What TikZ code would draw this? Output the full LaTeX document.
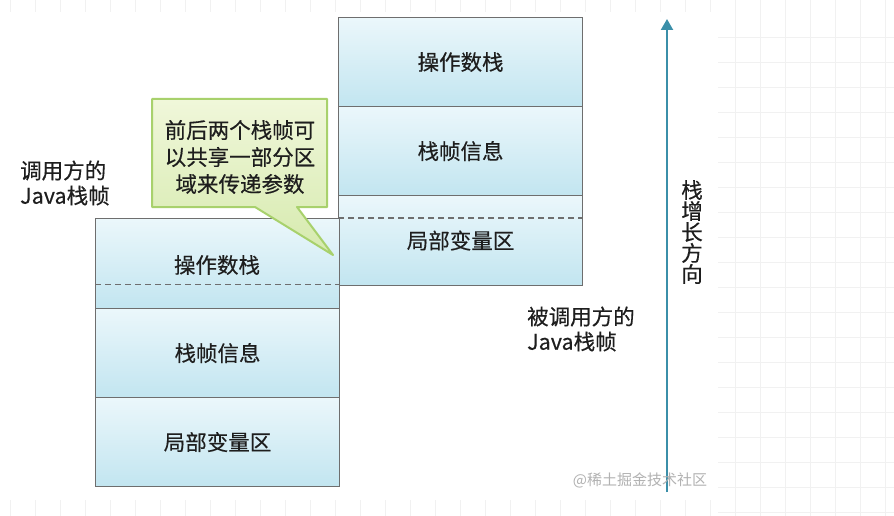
\documentclass[tikz,border=0pt]{standalone}
\usepackage{fontspec}
\setmainfont{Noto Sans CJK SC}[BoldFont=Noto Sans CJK SC, BoldFeatures={FakeBold=0.35}]
\usetikzlibrary{arrows.meta}
\definecolor{cellborder}{HTML}{6E6E6E}
\definecolor{celltop}{HTML}{EBF7FB}
\definecolor{cellbot}{HTML}{C2E5F0}
\definecolor{calltop}{HTML}{F0F7DA}
\definecolor{callbot}{HTML}{D6EAAE}
\definecolor{callborder}{HTML}{A8D16C}
\definecolor{arrowcol}{HTML}{3B8FA9}
\definecolor{gridcol}{HTML}{F1F1F1}
\definecolor{txt}{HTML}{1E1E1E}
\tikzset{
  cell/.style={draw=cellborder, line width=1.1pt, top color=celltop, bottom color=cellbot,
    minimum width=244pt, inner sep=0pt, anchor=north west, text=txt,
    font=\fontsize{21.5}{24}\selectfont\bfseries},
  sepline/.style={draw=cellborder, line width=1.1pt, dash pattern=on 6pt off 4pt},
  lbl/.style={align=left, anchor=west, inner sep=0pt, text=txt,
    font=\fontsize{21.5}{25}\selectfont\bfseries},
  calltext/.style={align=center, inner sep=0pt, text=txt,
    font=\fontsize{21.5}{27}\selectfont\bfseries},
  gridline/.style={draw=gridcol, line width=0.8pt},
}
\begin{document}
\begin{tikzpicture}[x=1pt,y=-1pt]
\useasboundingbox (0,0) rectangle (894,516);
\fill[white] (0,0) rectangle (894,516);
% faint background grid
\foreach \gx in {10,35,...,885} \draw[gridline] (\gx,0) -- (\gx,12);
\foreach \gx in {10,35,...,885} \draw[gridline] (\gx,500) -- (\gx,516);
\foreach \gx in {735,760,...,885} \draw[gridline] (\gx,0) -- (\gx,516);
\foreach \gy in {37,62,...,512} \draw[gridline] (718,\gy) -- (894,\gy);

% callee frame (right)
\node[cell, minimum height=89pt] (r1) at (338,17) {操作数栈};
\node[cell, minimum height=89pt] (r2) at (338,106) {栈帧信息};
\node[cell, minimum height=90pt] (r3) at (338,195) {局部变量区};

% caller frame (left)
\node[cell, minimum height=90pt] (l1) at (95,218) {};
\node[text=txt, font=\fontsize{21.5}{24}\selectfont\bfseries] (l1t) at (217,265) {操作数栈};
\node[cell, minimum height=89pt] (l2) at (95,308) {栈帧信息};
\node[cell, minimum height=89pt] (l3) at (95,397) {局部变量区};

% shared-region boundaries
\draw[sepline] (r3.west |- 0,218) -- (r3.east |- 0,218);
\draw[sepline] (l1.west |- 0,284.5) -- (l1.east |- 0,284.5);

% callout
\draw[draw=callborder, line width=2pt, line join=round, top color=calltop, bottom color=callbot]
  (152,99) -- (327,99) -- (327,207) -- (297,207) -- (333,255) -- (255,207) -- (152,207) -- cycle;
\node[calltext] (note) at (240,157) {前后两个栈帧可\\以共享一部分区\\域来传递参数};

% frame labels
\node[lbl] (caller) at (20,183) {调用方的\\Java栈帧};
\node[lbl] (callee) at (527,329) {被调用方的\\Java栈帧};

% growth direction arrow
\coordinate (abot) at (667,492);
\coordinate (atop) at (667,19);
\draw[arrowcol, line width=2pt, -{Triangle[length=11pt,width=12pt]}] (abot) -- (atop);
\node[align=center, inner sep=0pt, text=txt, font=\fontsize{21.5}{21}\selectfont\bfseries] (grow) at (692,232) {栈\\增\\长\\方\\向};

% watermark
\node[text=black!30, font=\fontsize{15}{17}\selectfont, inner sep=0pt] (wm) at (640,480) {@稀土掘金技术社区};
\end{tikzpicture}
\end{document}
